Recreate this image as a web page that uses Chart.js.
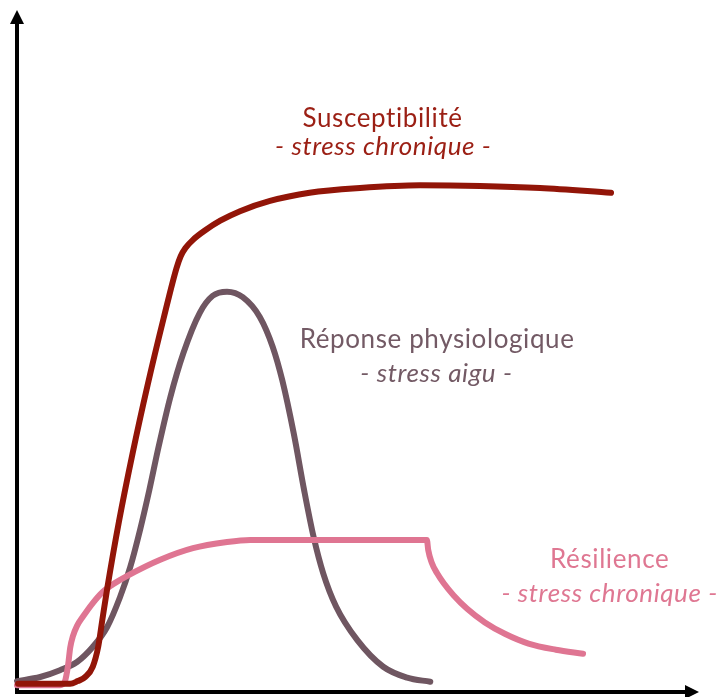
<!DOCTYPE html>
<html>
<head>
<meta charset="utf-8">
<script src="https://cdn.jsdelivr.net/npm/chart.js@4.4.0/dist/chart.umd.min.js"></script>
<style>
  body { margin: 0; background: #fff; }
</style>
</head>
<body>
<canvas id="grafico" width="716" height="697"></canvas>
<script>
// Susceptibilité - stress chronique
const susX = [0.15, 7.8, 8.9, 10.0, 11.1, 11.9, 12.5, 13.2, 14.95, 16.95, 19.15, 21.55, 23.4, 24.0, 24.7, 25.8, 27.6, 29.8, 32.7, 37.1, 42.9, 50.3, 59.1, 67.9, 76.7, 87.1];
const susY = [1.2, 1.2, 1.6, 2.2, 3.7, 6.6, 10.5, 15.0, 25.0, 35.0, 45.0, 55.0, 62.2, 63.9, 65.1, 66.3, 67.7, 69.1, 70.5, 72.0, 73.2, 73.9, 74.3, 74.2, 73.9, 73.2];

// Réponse physiologique - stress aigu
const repX = [0, 3.4, 6.3, 8.8, 11.1, 13.2, 15.1, 16.6, 18.05, 19.4, 20.75, 22.5, 24.4, 26.8, 28.7, 30.8, 33.1, 35.6, 37.5, 38.9, 40.6, 42.1, 43.5, 44.9, 46.8, 49.9, 53.7, 57.2, 60.6];
const repY = [1.6, 2.2, 3.2, 4.4, 6.6, 9.5, 13.9, 18.3, 23.8, 29.6, 35.9, 43.3, 49.7, 55.6, 58.1, 58.7, 57.9, 55.0, 50.6, 45.7, 37.8, 29.6, 22.7, 17.4, 12.5, 7.6, 3.7, 2.1, 1.5];

// Résilience - stress chronique
const resX = [0, 6.3, 7.0, 7.5, 7.8, 8.2, 8.8, 9.7, 11.0, 12.6, 14.4, 16.1, 21.0, 25.8, 30.8, 34.2, 60.1, 60.3, 60.8, 61.6, 62.6, 64.0, 66.0, 68.6, 71.6, 75.0, 79.0, 83.0];
const resY = [1.0, 1.0, 1.5, 4.0, 6.5, 8.2, 9.7, 11.1, 12.9, 14.7, 16.0, 17.0, 19.4, 21.1, 22.0, 22.3, 22.3, 20.8, 19.0, 17.4, 15.9, 14.2, 12.2, 10.2, 8.5, 7.1, 6.2, 5.6];

// Textos das curvas (posição em unidades do gráfico)
const rotulos = [
  { texto: "Susceptibilité", x: 53.6, y: 82.9, italico: false, cor: "#9b1f14" },
  { texto: "- stress chronique -", x: 53.7, y: 78.7, italico: true, cor: "#9b1f14" },
  { texto: "Réponse physiologique", x: 61.6, y: 50.4, italico: false, cor: "#735a65" },
  { texto: "- stress aigu -", x: 61.5, y: 45.5, italico: true, cor: "#735a65" },
  { texto: "Résilience", x: 86.9, y: 18.2, italico: false, cor: "#df7792" },
  { texto: "- stress chronique -", x: 86.9, y: 13.2, italico: true, cor: "#df7792" }
];

function pontos(xs, ys) {
  return xs.map((x, i) => ({ x: x, y: ys[i] }));
}

// Plugin para desenhar os eixos com setas
const eixos = {
  id: 'eixos',
  beforeDatasetsDraw(chart) {
    const ctx = chart.ctx;
    const a = chart.chartArea;
    ctx.save();
    ctx.strokeStyle = '#000';
    ctx.fillStyle = '#000';
    ctx.lineWidth = 4;
    ctx.beginPath();
    ctx.moveTo(a.left, a.bottom + 2);
    ctx.lineTo(a.left, a.top + 12);
    ctx.moveTo(a.left - 2, a.bottom);
    ctx.lineTo(a.right - 12, a.bottom);
    ctx.stroke();
    // seta vertical
    ctx.beginPath();
    ctx.moveTo(a.left, a.top);
    ctx.lineTo(a.left - 7, a.top + 14);
    ctx.lineTo(a.left + 7, a.top + 14);
    ctx.closePath();
    ctx.fill();
    // seta horizontal
    ctx.beginPath();
    ctx.moveTo(a.right, a.bottom);
    ctx.lineTo(a.right - 14, a.bottom - 7);
    ctx.lineTo(a.right - 14, a.bottom + 7);
    ctx.closePath();
    ctx.fill();
    ctx.restore();
  }
};

// Plugin para os textos
const textos = {
  id: 'textos',
  afterDatasetsDraw(chart) {
    const ctx = chart.ctx;
    const sx = chart.scales.x;
    const sy = chart.scales.y;
    ctx.save();
    ctx.textAlign = 'center';
    ctx.textBaseline = 'alphabetic';
    ctx.letterSpacing = '0.6px';
    rotulos.forEach(r => {
      ctx.font = (r.italico ? 'italic ' : '') + '26px Lato';
      ctx.fillStyle = r.cor;
      ctx.fillText(r.texto, sx.getPixelForValue(r.x), sy.getPixelForValue(r.y));
    });
    ctx.restore();
  }
};

new Chart(document.getElementById('grafico'), {
  type: 'line',
  data: {
    datasets: [
      { label: 'Susceptibilité', data: pontos(susX, susY), borderColor: '#921508', order: 1 },
      { label: 'Résilience', data: pontos(resX, resY), borderColor: '#df7592', order: 2 },
      { label: 'Réponse physiologique', data: pontos(repX, repY), borderColor: '#6f5661', order: 3 }
    ]
  },
  options: {
    responsive: false,
    animation: false,
    layout: { padding: { left: 17, right: 17, top: 10, bottom: 5 } },
    elements: {
      point: { radius: 0 },
      line: { borderWidth: 6, cubicInterpolationMode: 'monotone', borderCapStyle: 'round', borderJoinStyle: 'round', fill: false }
    },
    datasets: { line: { clip: false } },
    scales: {
      x: { type: 'linear', min: 0, max: 100, display: false },
      y: { type: 'linear', min: 0, max: 100, display: false }
    },
    plugins: {
      legend: { display: false },
      tooltip: { enabled: false }
    }
  },
  plugins: [eixos, textos]
});
</script>
</body>
</html>
